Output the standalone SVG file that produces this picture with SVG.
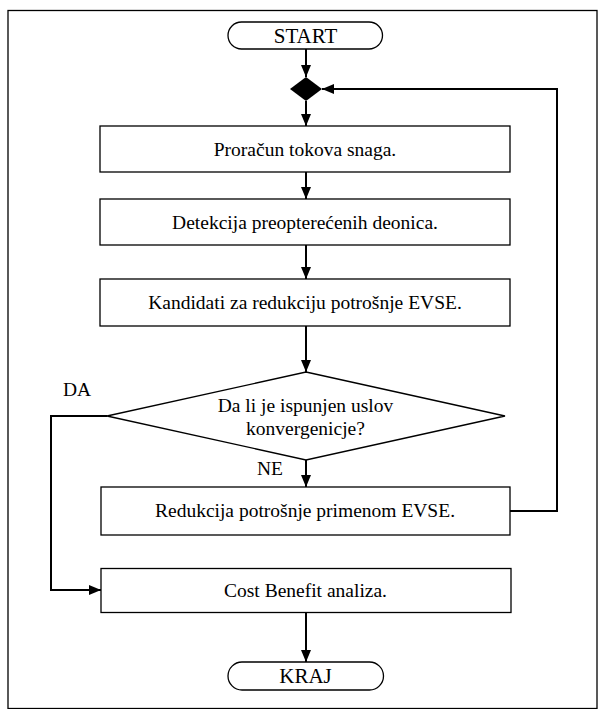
<svg xmlns="http://www.w3.org/2000/svg" width="598" height="709" viewBox="0 0 598 709">
  <style>
    .frame { fill: none; stroke: #000; stroke-width: 1.3; }
    .box { fill: #fff; stroke: #000; stroke-width: 1.3; }
    .term { fill: #fff; stroke: #000; stroke-width: 1.3; }
    .wire { fill: none; stroke: #000; stroke-width: 2; }
    text { font-family: "Liberation Serif", "Times New Roman", serif; font-size: 19.5px; fill: #000; text-anchor: middle; }
    .big { font-size: 21px; }
    .lbl { text-anchor: start; }
  </style>
  <defs>
    <marker id="arrow" viewBox="0 0 12 10" refX="12" refY="5" markerWidth="12" markerHeight="10" markerUnits="userSpaceOnUse" orient="auto">
      <path d="M0,0 L12,5 L0,10 Z" fill="#000"/>
    </marker>
  </defs>

  <!-- outer frame -->
  <rect class="frame" x="8" y="10.5" width="589" height="698"/>

  <!-- connectors -->
  <g id="connectors">
    <line class="wire" x1="306" y1="49" x2="306" y2="77" marker-end="url(#arrow)"/>
    <line class="wire" x1="306" y1="101" x2="306" y2="126" marker-end="url(#arrow)"/>
    <line class="wire" x1="306" y1="172" x2="306" y2="199" marker-end="url(#arrow)"/>
    <line class="wire" x1="306" y1="245" x2="306" y2="279" marker-end="url(#arrow)"/>
    <line class="wire" x1="306" y1="326" x2="306" y2="372" marker-end="url(#arrow)"/>
    <line class="wire" x1="306" y1="460" x2="306" y2="487" marker-end="url(#arrow)"/>
    <polyline class="wire" points="510,511 557,511 557,89 322,89" marker-end="url(#arrow)"/>
    <polyline class="wire" points="107,416 51,416 51,590 101,590" marker-end="url(#arrow)"/>
    <line class="wire" x1="306" y1="612" x2="306" y2="662" marker-end="url(#arrow)"/>
    <text class="lbl" x="63" y="396">DA</text>
    <text class="lbl" x="257" y="475">NE</text>
  </g>

  <g id="start">
    <rect class="term" x="228" y="22" width="154.5" height="27" rx="13.5" ry="13.5"/>
    <text class="big" x="305.5" y="42.5">START</text>
  </g>

  <g id="merge">
    <path d="M306,77 L322,89 L306,101 L290,89 Z" fill="#000"/>
  </g>

  <g id="load-flow">
    <rect class="box" x="100" y="126" width="410" height="46"/>
    <text x="305" y="155.5">Proračun tokova snaga.</text>
  </g>

  <g id="overload-detection">
    <rect class="box" x="100" y="199" width="410" height="46"/>
    <text x="305" y="228.5">Detekcija preopterećenih deonica.</text>
  </g>

  <g id="candidates">
    <rect class="box" x="100" y="279" width="410" height="47"/>
    <text x="305" y="308.5">Kandidati za redukciju potrošnje EVSE.</text>
  </g>

  <g id="convergence">
    <polygon class="box" points="306,372 505,416 306,460 107,416"/>
    <text x="305.5" y="412">Da li je ispunjen uslov</text>
    <text x="305.5" y="434.5">konvergenicje?</text>
  </g>

  <g id="reduction">
    <rect class="box" x="101" y="487" width="409" height="48"/>
    <text x="305" y="517">Redukcija potrošnje primenom EVSE.</text>
  </g>

  <g id="cost-benefit">
    <rect class="box" x="101" y="568.5" width="410" height="44"/>
    <text x="305.5" y="597">Cost Benefit analiza.</text>
  </g>

  <g id="end">
    <rect class="term" x="228" y="662" width="155.5" height="28" rx="14" ry="14"/>
    <text class="big" x="305.5" y="683">KRAJ</text>
  </g>
</svg>
